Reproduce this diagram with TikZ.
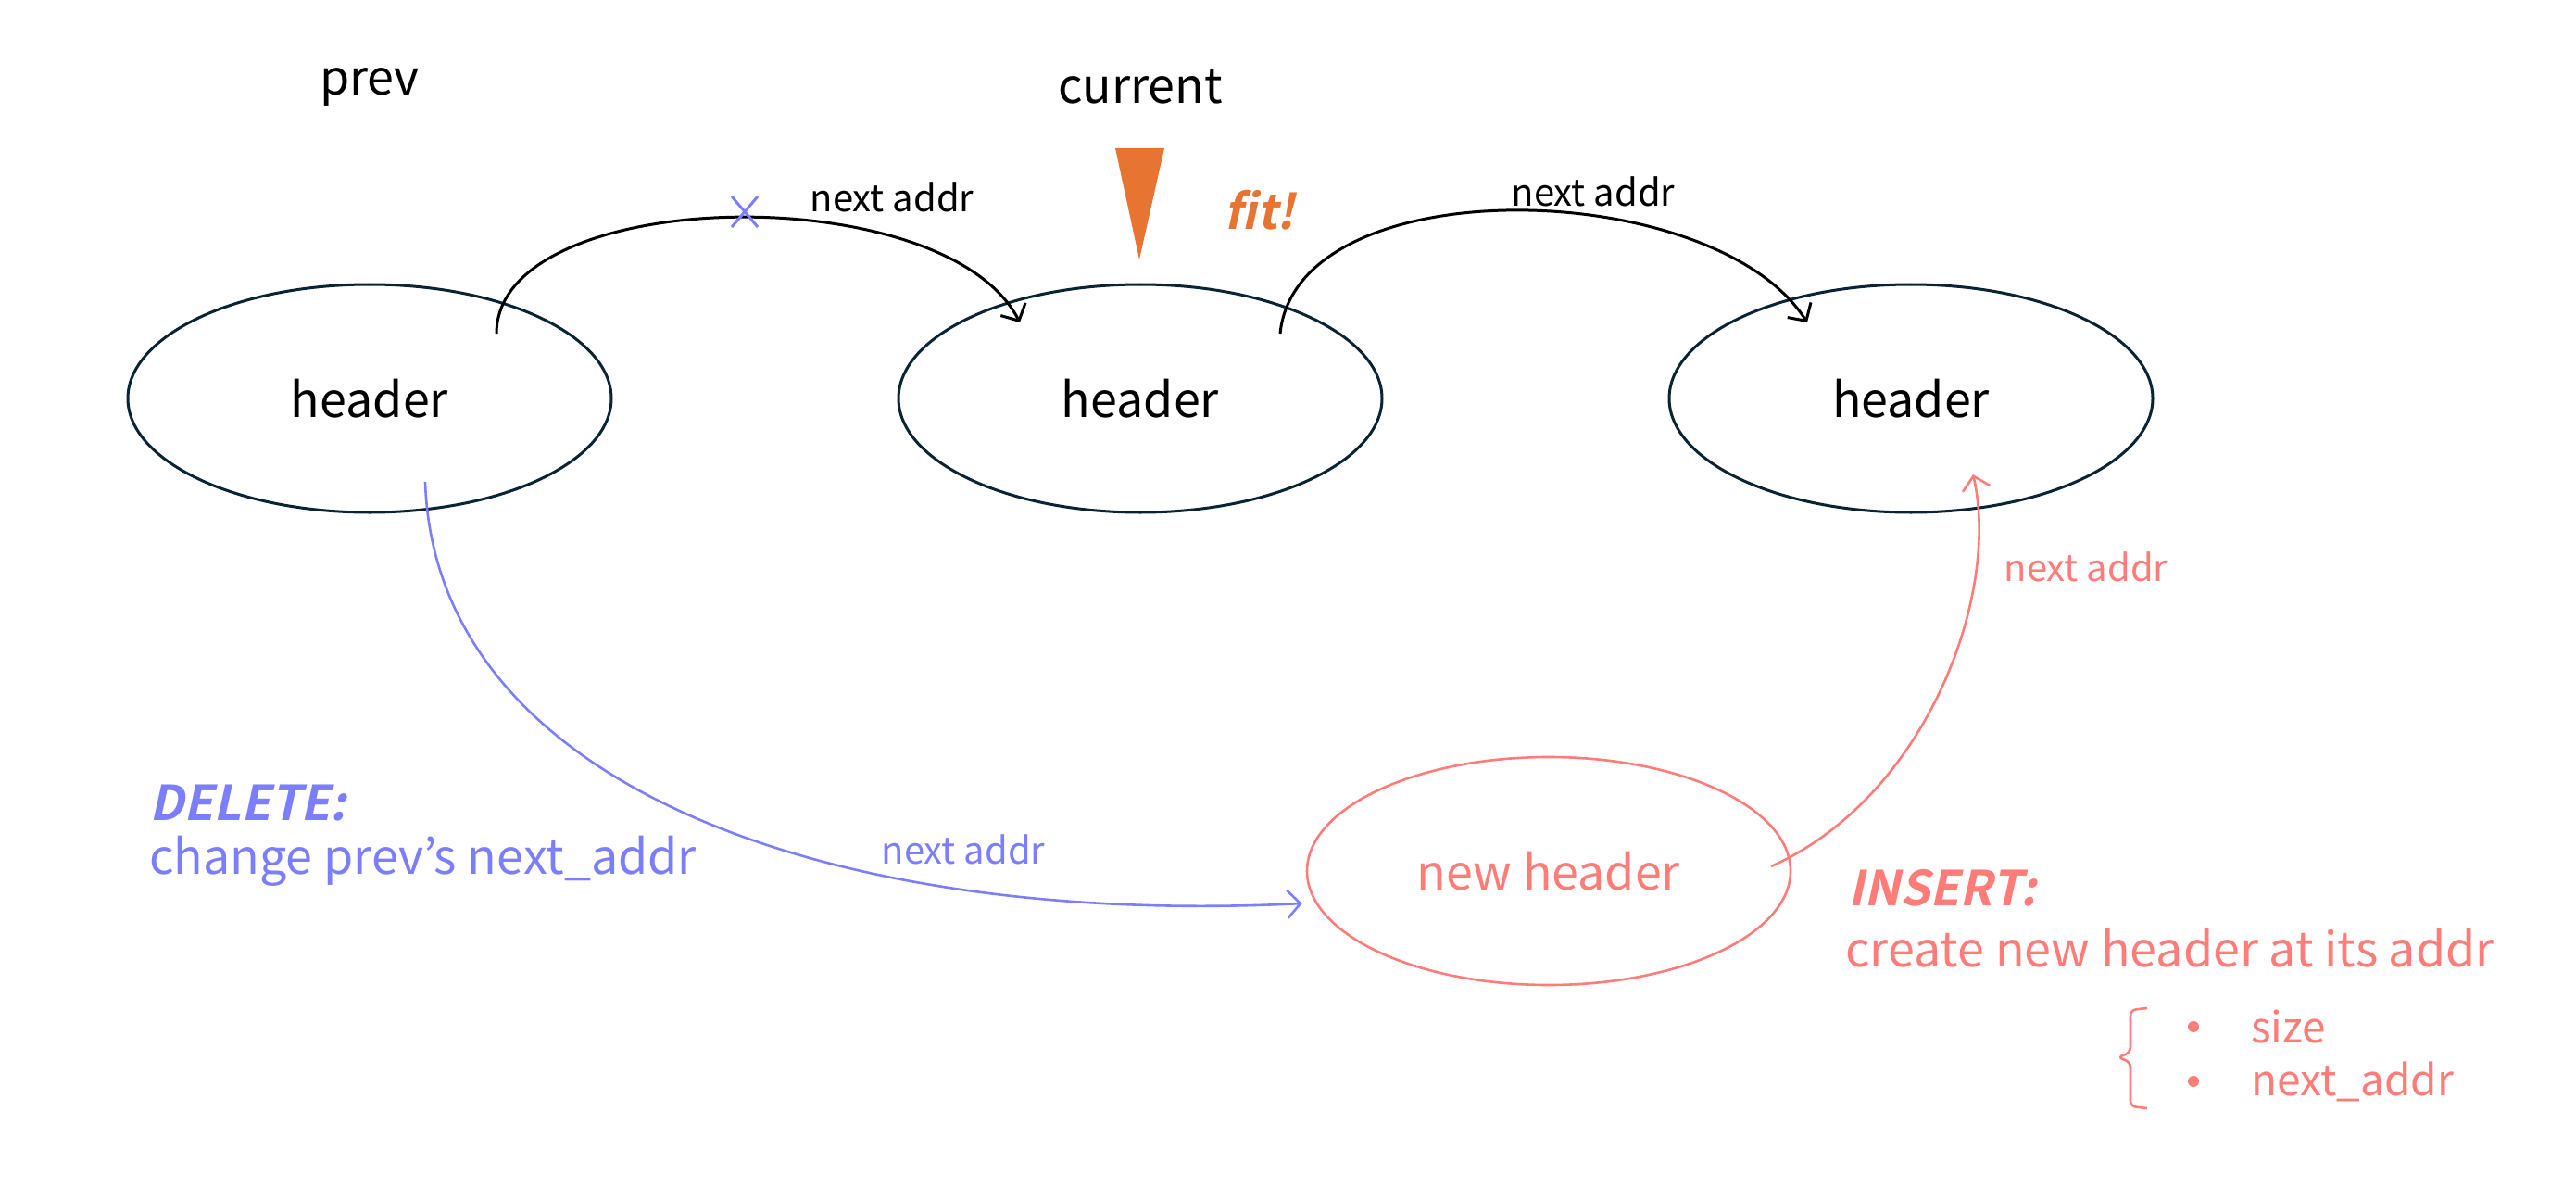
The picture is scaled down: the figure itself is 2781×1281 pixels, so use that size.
\documentclass[tikz,border=0pt]{standalone}
\usepackage{fontspec}
\setmainfont{Noto Sans CJK JP}
\newfontfamily\bsl{Noto Sans CJK JP Bold}[FakeSlant=0.22]
\usetikzlibrary{shapes.geometric,arrows.meta,calc}
\definecolor{navy}{HTML}{0B2433}
\definecolor{blu}{HTML}{7A7EFF}
\definecolor{sal}{HTML}{FF7C78}
\definecolor{org}{HTML}{E87432}
\begin{document}
\begin{tikzpicture}[x=1pt,y=-1pt,
  hdr/.style={ellipse,draw=navy,line width=3pt,minimum width=522pt,minimum height=246pt,inner sep=0pt,font=\fontsize{52}{60}\selectfont},
  big/.style={inner sep=0pt,font=\fontsize{52}{60}\selectfont},
  lbl/.style={inner sep=0pt,font=\fontsize{40}{48}\selectfont},
  emph/.style={inner sep=0pt,font=\bsl\fontsize{52}{60}\selectfont},
  arr/.style={line width=3pt,-{Straight Barb[length=14pt,width=30pt]}}]
\useasboundingbox (0,0) rectangle (2781,1281);
% header nodes
\node[hdr] (prev) at (399,430) {header};
\node[hdr] (cur) at (1231,430) {header};
\node[hdr] (nxt) at (2063,430) {header};
\node[hdr,draw=sal,text=sal,line width=2.6pt] (new) at (1672,940) {new header};
% top labels
\node[big] (lprev) at (399,94) {prev};
\node[big] (lcur) at (1231,94) {current};
\fill[org] (1204,160) -- (1257,160) -- (1230,280) -- cycle;
\node[emph,text=org] (fit) at (1360,227) {fit!};
% anchors for connectors
\coordinate (a1s) at ($(prev)+(137,-70)$);
\coordinate (a1e) at ($(cur)+(-130,-82)$);
\coordinate (a2s) at ($(cur)+(151,-70)$);
\coordinate (a2e) at ($(nxt)+(-112,-82)$);
\coordinate (bs) at ($(prev)+(60,90)$);
\coordinate (be) at ($(new.west)+(-4,35)$);
\coordinate (rs) at ($(new)+(240,-5)$);
\coordinate (re) at ($(nxt)+(67,82)$);
% black arcs
\draw[arr] (a1s) .. controls ($(a1s)+(0,-160)$) and ($(a1e)+(-81,-158)$) .. (a1e);
\draw[arr] (a2s) .. controls ($(a2s)+(18,-180)$) and ($(a2e)+(-101,-158)$) .. (a2e);
\node[lbl] (l1) at (963,213) {next addr};
\node[lbl] (l2) at (1720,207) {next addr};
% blue x
\draw[blu,line width=3pt] (790,212) -- (818,245) (790,245) -- (818,212);
% blue arc
\draw[arr,blu,line width=2.6pt] (bs) .. controls ($(bs)+(11,330)$) and ($(be)+(-507,25)$) .. (be);
\node[lbl,text=blu] (l3) at (1040,917) {next addr};
% red arc
\draw[arr,sal,line width=2.6pt] (rs) .. controls ($(rs)+(168,-75)$) and ($(re)+(30,129)$) .. (re);
\node[lbl,text=sal] (l4) at (2252,612) {next addr};
% delete text
\node[emph,text=blu,anchor=west] (del) at (161,867) {DELETE:};
\node[big,text=blu,anchor=west] (delt) at (161,929) {change prev’s next\_addr};
% insert text
\node[emph,text=sal,anchor=west] (ins) at (1995,958) {INSERT:};
\node[big,text=sal,anchor=west] (inst) at (1992,1023) {create new header at its addr};
% brace
\draw[sal,line width=2.6pt,rounded corners=6pt] (2318,1088) -- (2300,1090) -- (2300,1136) -- (2286,1141) -- (2300,1146) -- (2300,1194) -- (2318,1196);
\fill[sal] (2368,1108) circle (6);
\fill[sal] (2368,1167) circle (6);
\node[lbl,text=sal,anchor=west,font=\fontsize{46}{54}\selectfont] (sz) at (2430,1108) {size};
\node[lbl,text=sal,anchor=west,font=\fontsize{46}{54}\selectfont] (na) at (2430,1167) {next\_addr};
\end{tikzpicture}
\end{document}
